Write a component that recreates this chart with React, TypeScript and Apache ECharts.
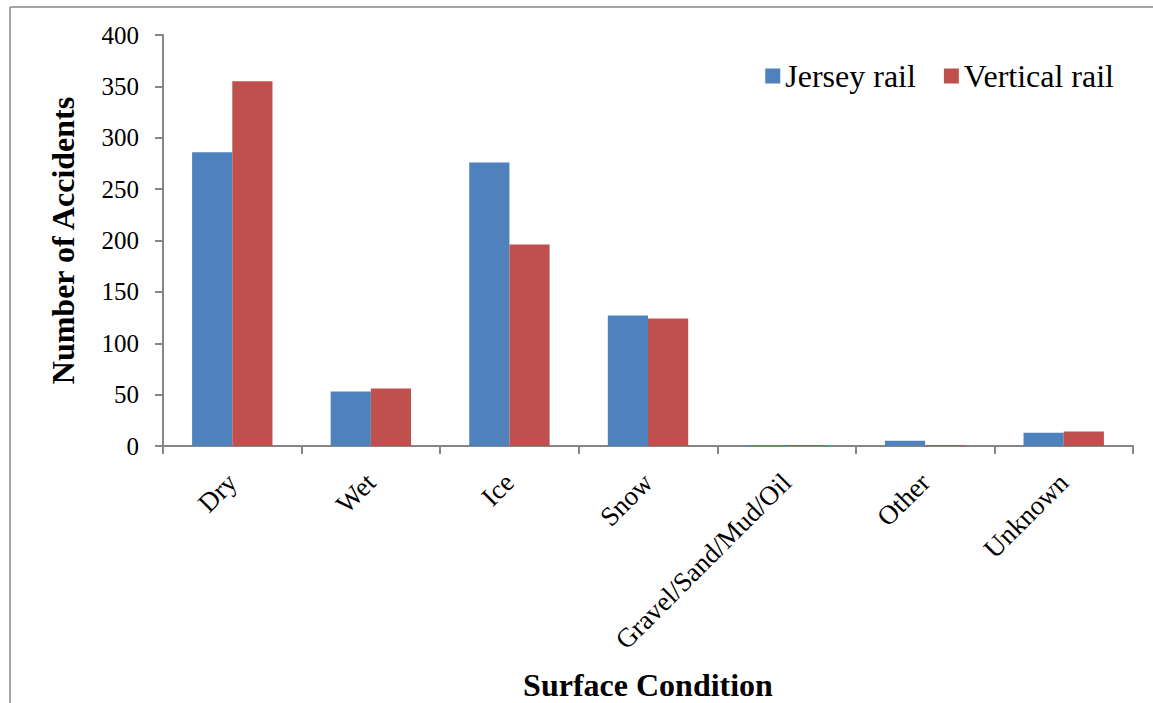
import React, { useEffect, useRef } from "react";
import * as echarts from "echarts";

const categories = ["Dry", "Wet", "Ice", "Snow", "Gravel/Sand/Mud/Oil", "Other", "Unknown"];
const jerseyRail = [286, 53, 276, 127, 1, 5, 13];
const verticalRail = [355, 56, 196, 124, 1, 1, 14];
const seriesNames = ["Jersey rail", "Vertical rail"];

const FONT = "'Liberation Serif', 'Times New Roman', serif";

export default function App() {
  const ref = useRef<HTMLDivElement>(null);
  useEffect(() => {
    document.body.style.margin = "0";
    const chart = echarts.init(ref.current!, null, { renderer: "svg" });
    chart.setOption({
      animation: false,
      backgroundColor: "#ffffff",
      textStyle: { fontFamily: FONT },
      graphic: [
        { type: "line", shape: { x1: 10, y1: 7, x2: 1153, y2: 7 }, style: { stroke: "#888888", lineWidth: 1.5 } },
        { type: "line", shape: { x1: 10, y1: 7, x2: 10, y2: 703 }, style: { stroke: "#888888", lineWidth: 1.5 } },
      ],
      legend: {
        data: seriesNames,
        right: 34,
        top: 55,
        itemWidth: 15,
        itemHeight: 15,
        itemGap: 28,
        icon: "rect",
        textStyle: { fontFamily: FONT, fontSize: 32, color: "#000" },
      },
      grid: { left: 163, right: 20, top: 35, bottom: 257, containLabel: false, outerBoundsMode: "none" },
      xAxis: {
        type: "category",
        data: categories,
        name: "Surface Condition",
        nameLocation: "middle",
        nameGap: 223,
        nameTextStyle: { fontFamily: FONT, fontSize: 32, fontWeight: "bold", color: "#000" },
        axisLine: { lineStyle: { color: "#868686", width: 2 } },
        axisTick: { show: true, length: 8, lineStyle: { color: "#868686", width: 2 } },
        axisLabel: { rotate: 45, fontFamily: FONT, fontSize: 27, color: "#000", margin: 32, interval: 0 },
      },
      yAxis: {
        type: "value",
        min: 0,
        max: 400,
        interval: 50,
        name: "Number of Accidents",
        nameLocation: "middle",
        nameGap: 84,
        nameRotate: 90,
        nameTextStyle: { fontFamily: FONT, fontSize: 32, fontWeight: "bold", color: "#000" },
        axisLine: { show: true, lineStyle: { color: "#868686", width: 2 } },
        axisTick: { show: true, length: 8, lineStyle: { color: "#868686", width: 2 } },
        splitLine: { show: false },
        axisLabel: { fontFamily: FONT, fontSize: 25, color: "#000", margin: 24 },
      },
      series: [
        {
          name: seriesNames[0],
          type: "bar",
          data: jerseyRail,
          barGap: "0%",
          barCategoryGap: "42%",
          itemStyle: { color: "#4F81BD" },
        },
        {
          name: seriesNames[1],
          type: "bar",
          data: verticalRail,
          itemStyle: { color: "#C0504D" },
        },
      ],
    });
    return () => chart.dispose();
  }, []);
  return <div ref={ref} style={{ width: 1153, height: 703, position: "absolute", left: 0, top: 0 }} />;
}
